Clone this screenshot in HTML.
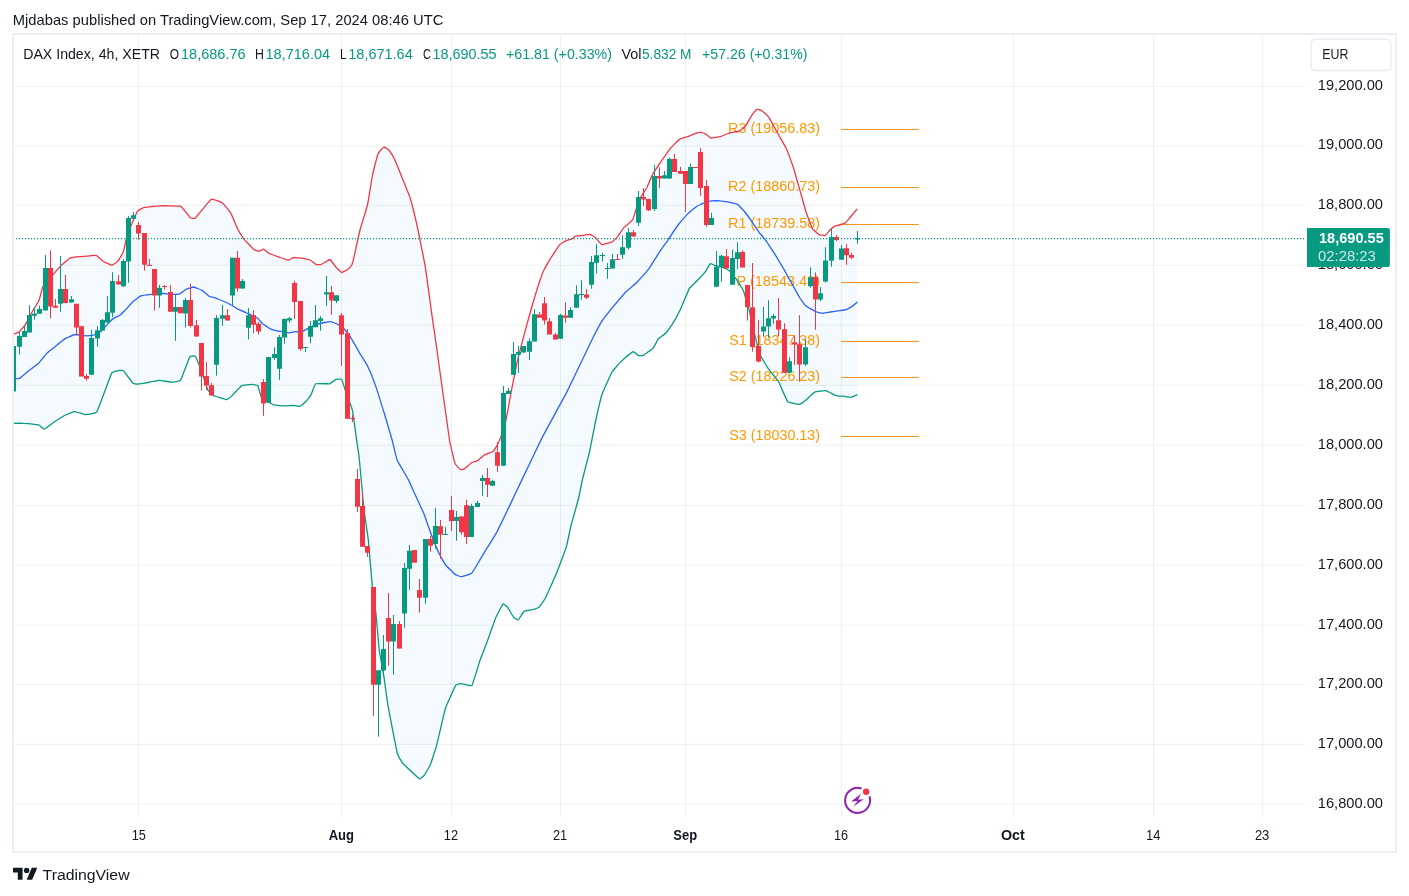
<!DOCTYPE html>
<html lang="en"><head><meta charset="utf-8"><title>DAX Index 4h chart</title>
<style>html,body{margin:0;padding:0;background:#fff}body{width:1409px;height:896px;overflow:hidden}svg{display:block}text{white-space:pre}</style></head>
<body>
<svg width="1409" height="896" viewBox="0 0 1409 896" font-family="'Liberation Sans', Arial, sans-serif">
<rect width="1409" height="896" fill="#fff"/>
<path d="M138.4 34.0V816.6M341.5 34.0V816.6M451.5 34.0V816.6M560.5 34.0V816.6M685.5 34.0V816.6M841.4 34.0V816.6M1013.5 34.0V816.6M1153.5 34.0V816.6M1262.6 34.0V816.6" stroke="#2a3a3e" stroke-opacity="0.072" stroke-width="1" fill="none"/>
<path d="M13.0 86.25H1305.8M13.0 146.30H1305.8M13.0 205.30H1305.8M13.0 265.30H1305.8M13.0 325.25H1305.8M13.0 385.25H1305.8M13.0 445.30H1305.8M13.0 505.35H1305.8M13.0 565.25H1305.8M13.0 625.25H1305.8M13.0 684.50H1305.8M13.0 744.40H1305.8M13.0 804.30H1305.8" stroke="#2a3a3e" stroke-opacity="0.072" stroke-width="1" fill="none"/>
<path d="M12.8 334.2C13.1 334.1 18.3 332.6 18.8 332.2C19.2 331.8 24.5 325.9 25.0 325.2C25.5 324.4 30.7 314.4 31.2 313.4C31.8 312.4 38.6 301.4 39.1 300.3C39.5 299.2 42.4 287.3 43.0 286.2C43.5 285.2 52.4 275.4 53.1 274.5C53.8 273.7 60.2 266.3 60.9 265.6C61.6 265.0 69.5 258.2 70.3 257.8C71.1 257.4 80.2 256.7 81.2 256.6C82.3 256.5 95.2 255.1 96.1 255.3C97.0 255.5 102.5 260.9 103.1 261.2C103.8 261.6 111.1 265.2 111.7 265.2C112.3 265.2 117.5 261.8 118.0 261.2C118.4 260.7 123.1 252.8 123.4 251.9C123.8 250.9 126.2 238.9 126.6 237.8C126.9 236.8 130.8 226.4 131.2 225.3C131.7 224.2 137.0 211.9 137.5 211.2C138.0 210.6 142.1 208.0 143.0 207.8C143.8 207.6 157.9 205.8 159.4 205.8C160.9 205.7 179.2 205.8 180.5 206.2C181.7 206.7 190.0 217.5 190.6 218.0C191.2 218.4 194.5 218.7 195.3 218.0C196.1 217.2 210.2 199.8 211.2 199.2C212.3 198.7 221.7 202.4 222.5 203.0C223.3 203.6 230.7 212.7 231.2 213.8C231.8 214.8 237.0 227.8 237.5 228.8C238.0 229.8 243.1 237.9 243.8 238.8C244.4 239.6 253.2 249.0 253.8 249.5C254.3 250.0 258.4 251.3 258.8 251.2C259.1 251.2 263.4 249.2 263.8 249.2C264.1 249.3 268.1 252.9 268.8 253.2C269.4 253.6 279.2 257.2 280.0 257.5C280.8 257.8 288.2 260.0 288.8 260.0C289.3 260.0 293.2 257.6 293.8 257.5C294.3 257.4 301.9 258.1 302.5 258.2C303.1 258.4 309.4 259.8 310.0 260.0C310.6 260.2 315.8 264.3 316.2 264.5C316.7 264.7 320.7 264.7 321.2 264.5C321.8 264.3 329.4 259.4 330.0 259.5C330.6 259.6 335.8 267.0 336.2 267.5C336.7 268.0 341.3 272.4 341.8 272.5C342.2 272.6 347.1 269.8 347.5 269.5C347.9 269.2 351.4 265.7 351.8 265.0C352.1 264.3 354.7 253.9 355.0 252.5C355.3 251.1 359.5 231.9 360.0 230.0C360.5 228.1 367.0 207.2 367.5 205.0C368.0 202.8 372.1 177.1 372.5 175.0C372.9 172.9 377.6 154.9 378.0 153.8C378.4 152.6 383.3 147.2 383.8 147.0C384.2 146.8 388.4 149.6 388.8 150.0C389.1 150.4 393.3 156.6 393.8 157.5C394.2 158.4 399.4 170.9 400.0 172.5C400.6 174.1 409.3 195.3 410.0 197.5C410.7 199.7 416.9 224.8 417.5 227.5C418.1 230.2 424.4 261.7 425.0 265.0C425.6 268.3 430.8 306.4 431.2 310.0C431.8 313.6 436.8 348.8 437.5 354.0C438.2 359.2 448.8 435.6 449.5 440.0C450.2 444.4 454.6 462.2 455.0 463.4C455.4 464.6 460.1 469.5 460.5 469.7C460.8 469.9 463.9 469.2 464.4 468.9C464.8 468.6 470.9 463.0 471.4 462.7C471.9 462.3 476.3 461.4 476.9 461.1C477.4 460.8 484.1 455.2 484.7 454.8C485.3 454.5 492.1 452.0 492.5 451.7C492.9 451.4 495.3 448.3 495.6 447.8C495.9 447.3 499.9 439.5 500.3 438.4C500.7 437.4 505.3 423.1 505.8 421.2C506.2 419.4 510.8 394.0 511.2 391.6C511.7 389.1 516.9 363.0 517.5 360.3C518.1 357.6 526.2 326.7 526.9 324.4C527.5 322.1 532.6 304.2 533.1 302.5C533.6 300.8 538.9 283.5 539.4 282.2C539.8 280.9 543.6 270.6 544.1 269.7C544.5 268.8 549.7 259.8 550.3 258.8C550.9 257.8 559.1 245.4 559.7 244.7C560.3 244.0 565.4 241.0 565.9 240.8C566.4 240.6 571.8 239.1 572.2 238.9C572.6 238.7 574.9 236.2 575.3 236.1C575.8 235.9 582.5 235.4 583.1 235.3C583.7 235.2 589.7 234.4 590.2 234.5C590.7 234.6 595.2 237.2 595.6 237.7C596.1 238.1 601.2 244.5 601.9 244.7C602.5 244.9 611.4 242.2 612.0 241.9C612.7 241.6 617.0 237.4 617.5 236.9C618.0 236.3 622.8 228.8 623.4 228.1C624.0 227.4 632.2 220.7 632.8 219.5C633.4 218.4 638.5 201.3 639.1 200.0C639.6 198.7 646.3 188.6 646.9 187.5C647.4 186.4 652.5 174.6 653.1 173.4C653.8 172.3 661.8 160.4 662.5 159.4C663.2 158.4 669.6 149.2 670.3 148.4C671.0 147.6 678.9 139.6 679.7 139.1C680.4 138.6 688.4 136.5 689.1 136.2C689.8 136.0 696.4 133.0 696.9 132.8C697.4 132.7 701.2 132.4 701.6 132.5C701.9 132.6 705.9 134.2 706.2 134.4C706.6 134.6 710.4 137.9 710.9 138.0C711.5 138.1 719.6 136.9 720.3 136.7C721.1 136.5 728.9 133.0 729.7 132.8C730.4 132.6 738.4 131.5 739.1 131.2C739.7 131.0 744.8 127.2 745.3 126.6C745.8 125.9 751.1 116.3 751.6 115.6C752.0 114.9 756.6 109.2 757.0 109.1C757.5 108.9 762.0 110.9 762.5 111.2C763.0 111.6 768.2 116.4 768.8 117.2C769.3 118.0 775.9 130.0 776.6 131.2C777.2 132.5 785.2 146.2 785.9 147.7C786.6 149.2 793.2 167.0 793.8 168.8C794.3 170.5 799.5 188.9 800.0 190.6C800.5 192.4 805.8 211.0 806.2 212.5C806.8 214.0 812.0 227.9 812.5 228.8C813.0 229.6 818.2 234.1 818.8 234.4C819.2 234.7 824.5 235.8 825.0 235.6C825.5 235.4 829.6 230.4 830.0 230.0C830.4 229.6 834.4 226.5 835.0 226.2C835.6 226.0 844.4 223.5 845.0 223.1C845.6 222.8 849.5 218.1 850.0 217.5C850.5 216.9 857.0 209.1 857.2 208.8L857.5 394.7C857.2 394.8 851.5 397.3 850.9 397.3C850.4 397.4 843.8 396.3 843.1 396.2C842.5 396.2 836.0 395.5 835.3 395.3C834.6 395.1 826.8 390.8 825.9 390.6C825.1 390.5 815.8 391.5 815.0 391.9C814.2 392.2 807.8 398.4 807.2 398.9C806.6 399.4 800.1 404.2 799.4 404.4C798.6 404.5 788.8 402.5 788.1 402.0C787.5 401.6 784.1 394.2 783.8 393.4C783.4 392.7 779.4 383.2 779.1 382.5C778.7 381.8 774.8 376.8 774.4 376.2C773.9 375.7 768.7 369.2 768.1 368.4C767.6 367.7 761.5 357.4 761.1 356.7C760.7 356.1 759.2 353.7 758.8 351.9C758.3 350.1 749.9 313.3 749.4 311.2C748.9 309.2 746.5 301.2 746.2 300.3C746.0 299.5 743.5 291.0 743.1 290.2C742.8 289.3 737.4 280.8 736.9 280.0C736.3 279.2 729.7 271.2 729.1 270.6C728.4 270.1 721.8 266.9 721.2 266.7C720.7 266.5 715.4 265.8 715.0 265.6C714.6 265.5 710.7 263.4 710.3 263.6C709.9 263.8 706.1 270.8 705.6 271.4C705.1 272.1 698.5 279.3 697.8 280.0C697.2 280.7 690.1 287.2 689.4 288.4C688.7 289.6 680.7 308.9 680.0 310.3C679.3 311.8 672.8 323.5 672.2 324.4C671.6 325.3 666.5 332.4 665.9 333.0C665.4 333.6 658.6 338.6 658.1 339.2C657.6 339.8 654.0 347.2 653.4 347.8C652.8 348.5 643.9 355.0 643.3 355.3C642.7 355.6 639.0 355.8 638.6 355.6C638.2 355.5 633.8 351.5 633.1 351.7C632.4 352.0 621.5 361.1 620.6 361.9C619.8 362.7 612.8 370.7 612.0 372.0C611.3 373.3 602.5 392.7 601.9 394.7C601.2 396.7 596.1 418.9 595.6 421.2C595.1 423.6 589.9 450.1 589.4 452.5C588.8 454.9 582.8 478.2 582.3 480.0C581.9 481.8 579.1 496.2 578.7 498.0C578.3 499.8 571.9 522.2 571.4 524.2C570.9 526.2 566.7 545.8 566.2 547.4C565.7 549.0 560.3 563.4 559.8 564.8C559.3 566.2 553.2 580.9 552.6 582.2C552.0 583.5 545.8 597.2 545.3 598.2C544.8 599.2 539.9 606.4 539.4 606.9C538.9 607.3 533.8 609.3 533.1 609.5C532.5 609.7 524.3 611.1 523.8 611.6C523.2 612.0 518.7 619.8 518.3 620.0C517.9 620.2 514.0 617.8 513.6 617.3C513.2 616.9 508.5 608.5 508.1 608.0C507.7 607.4 503.6 603.3 503.1 603.8C502.6 604.2 496.2 616.7 495.6 618.1C495.0 619.6 488.4 638.3 487.8 640.0C487.2 641.7 480.6 658.5 480.0 660.3C479.4 662.1 472.6 684.7 471.9 685.6C471.1 686.5 461.9 683.6 461.2 683.6C460.6 683.6 456.4 684.2 455.8 685.2C455.2 686.2 446.4 705.3 445.6 707.8C444.8 710.3 436.9 744.6 436.2 746.9C435.6 749.2 430.5 764.5 430.0 765.6C429.5 766.7 424.9 774.5 424.5 775.0C424.1 775.5 420.3 779.4 419.4 778.9C418.5 778.4 403.6 764.3 402.7 763.3C401.8 762.3 397.8 755.4 397.2 753.1C396.6 750.8 388.3 707.8 387.8 704.7C387.3 701.6 384.2 678.8 383.9 676.6C383.6 674.4 379.5 652.5 379.2 650.0C378.9 647.5 376.4 617.6 376.1 615.0C375.8 612.4 372.5 588.3 372.2 585.3C371.9 582.3 368.6 543.0 368.3 540.0C368.0 537.0 364.4 513.2 364.0 510.0C363.6 506.8 359.7 462.9 359.4 460.0C359.1 457.1 356.5 439.2 356.2 437.2C356.0 435.2 352.8 411.7 352.3 409.8C351.9 408.0 345.7 391.5 345.3 390.3C344.9 389.1 342.1 379.8 341.7 379.4C341.3 378.9 336.4 379.2 335.9 379.4C335.5 379.6 330.5 383.6 329.7 383.8C328.9 383.9 316.4 383.3 315.6 383.8C314.9 384.2 311.3 394.3 310.9 395.0C310.6 395.7 306.7 400.8 306.2 401.2C305.8 401.7 300.5 406.2 300.0 406.4C299.5 406.6 294.4 405.5 293.8 405.5C293.1 405.4 285.2 406.0 284.4 405.9C283.6 405.9 274.0 404.9 273.4 404.8C272.9 404.8 271.6 403.9 271.1 403.6C270.6 403.3 262.2 398.8 261.7 398.1C261.2 397.4 258.2 386.2 257.8 385.6C257.4 385.1 252.2 384.4 251.6 384.4C250.9 384.4 242.2 385.4 241.4 385.9C240.6 386.4 231.8 396.0 231.2 396.6C230.7 397.1 227.2 399.7 226.6 399.7C225.9 399.7 214.8 396.2 214.1 395.8C213.3 395.4 208.3 391.0 207.8 390.0C207.3 389.0 202.1 372.6 201.6 371.2C201.1 369.9 195.8 357.0 195.3 356.4C194.8 355.8 190.4 355.9 189.8 356.9C189.2 357.8 181.2 379.3 180.5 380.3C179.8 381.3 172.7 382.2 171.9 382.2C171.0 382.2 160.3 380.3 159.4 380.3C158.4 380.3 149.3 382.4 148.4 382.5C147.6 382.6 138.1 384.0 137.5 384.1C136.9 384.1 133.4 383.5 132.8 383.0C132.2 382.4 124.0 371.3 123.4 370.8C122.9 370.3 119.2 370.4 118.8 370.5C118.3 370.6 112.6 371.5 111.7 373.1C110.8 374.8 97.9 410.2 96.9 411.9C95.8 413.5 86.8 414.7 85.9 414.7C85.1 414.7 75.8 411.6 75.0 411.6C74.2 411.6 66.5 414.6 65.6 415.0C64.8 415.4 54.0 422.2 53.1 422.8C52.3 423.4 45.1 429.0 44.5 429.1C44.0 429.2 39.5 425.3 39.1 425.2C38.7 425.0 35.0 424.4 34.4 424.4C33.8 424.3 24.3 423.3 23.4 423.3C22.6 423.2 13.2 423.3 12.8 423.3Z" fill="#2196f3" fill-opacity="0.05"/>
<path d="M841 129.5H918.8" stroke="#f7931a" stroke-width="1" fill="none"/>
<text x="728.1" y="132.78" font-size="14.8" fill="#ff9800" textLength="92.0" lengthAdjust="spacingAndGlyphs">R3 (19056.83)</text>
<path d="M841 187.5H918.8" stroke="#f7931a" stroke-width="1" fill="none"/>
<text x="728.1" y="191.43" font-size="14.8" fill="#ff9800" textLength="92.0" lengthAdjust="spacingAndGlyphs">R2 (18860.73)</text>
<path d="M841 224.5H918.8" stroke="#f7931a" stroke-width="1" fill="none"/>
<text x="728.1" y="227.67" font-size="14.8" fill="#ff9800" textLength="92.0" lengthAdjust="spacingAndGlyphs">R1 (18739.58)</text>
<path d="M841 282.5H918.8" stroke="#f7931a" stroke-width="1" fill="none"/>
<text x="736.6" y="286.33" font-size="14.8" fill="#ff9800" textLength="83.4" lengthAdjust="spacingAndGlyphs">P (18543.48)</text>
<path d="M841 341.5H918.8" stroke="#f7931a" stroke-width="1" fill="none"/>
<text x="729.2" y="344.99" font-size="14.8" fill="#ff9800" textLength="90.9" lengthAdjust="spacingAndGlyphs">S1 (18347.38)</text>
<path d="M841 377.5H918.8" stroke="#f7931a" stroke-width="1" fill="none"/>
<text x="729.2" y="381.23" font-size="14.8" fill="#ff9800" textLength="90.9" lengthAdjust="spacingAndGlyphs">S2 (18226.23)</text>
<path d="M841 436.5H918.8" stroke="#f7931a" stroke-width="1" fill="none"/>
<text x="729.2" y="439.89" font-size="14.8" fill="#ff9800" textLength="90.9" lengthAdjust="spacingAndGlyphs">S3 (18030.13)</text>
<path d="M12.8 334.2C13.1 334.1 18.3 332.6 18.8 332.2C19.2 331.8 24.5 325.9 25.0 325.2C25.5 324.4 30.7 314.4 31.2 313.4C31.8 312.4 38.6 301.4 39.1 300.3C39.5 299.2 42.4 287.3 43.0 286.2C43.5 285.2 52.4 275.4 53.1 274.5C53.8 273.7 60.2 266.3 60.9 265.6C61.6 265.0 69.5 258.2 70.3 257.8C71.1 257.4 80.2 256.7 81.2 256.6C82.3 256.5 95.2 255.1 96.1 255.3C97.0 255.5 102.5 260.9 103.1 261.2C103.8 261.6 111.1 265.2 111.7 265.2C112.3 265.2 117.5 261.8 118.0 261.2C118.4 260.7 123.1 252.8 123.4 251.9C123.8 250.9 126.2 238.9 126.6 237.8C126.9 236.8 130.8 226.4 131.2 225.3C131.7 224.2 137.0 211.9 137.5 211.2C138.0 210.6 142.1 208.0 143.0 207.8C143.8 207.6 157.9 205.8 159.4 205.8C160.9 205.7 179.2 205.8 180.5 206.2C181.7 206.7 190.0 217.5 190.6 218.0C191.2 218.4 194.5 218.7 195.3 218.0C196.1 217.2 210.2 199.8 211.2 199.2C212.3 198.7 221.7 202.4 222.5 203.0C223.3 203.6 230.7 212.7 231.2 213.8C231.8 214.8 237.0 227.8 237.5 228.8C238.0 229.8 243.1 237.9 243.8 238.8C244.4 239.6 253.2 249.0 253.8 249.5C254.3 250.0 258.4 251.3 258.8 251.2C259.1 251.2 263.4 249.2 263.8 249.2C264.1 249.3 268.1 252.9 268.8 253.2C269.4 253.6 279.2 257.2 280.0 257.5C280.8 257.8 288.2 260.0 288.8 260.0C289.3 260.0 293.2 257.6 293.8 257.5C294.3 257.4 301.9 258.1 302.5 258.2C303.1 258.4 309.4 259.8 310.0 260.0C310.6 260.2 315.8 264.3 316.2 264.5C316.7 264.7 320.7 264.7 321.2 264.5C321.8 264.3 329.4 259.4 330.0 259.5C330.6 259.6 335.8 267.0 336.2 267.5C336.7 268.0 341.3 272.4 341.8 272.5C342.2 272.6 347.1 269.8 347.5 269.5C347.9 269.2 351.4 265.7 351.8 265.0C352.1 264.3 354.7 253.9 355.0 252.5C355.3 251.1 359.5 231.9 360.0 230.0C360.5 228.1 367.0 207.2 367.5 205.0C368.0 202.8 372.1 177.1 372.5 175.0C372.9 172.9 377.6 154.9 378.0 153.8C378.4 152.6 383.3 147.2 383.8 147.0C384.2 146.8 388.4 149.6 388.8 150.0C389.1 150.4 393.3 156.6 393.8 157.5C394.2 158.4 399.4 170.9 400.0 172.5C400.6 174.1 409.3 195.3 410.0 197.5C410.7 199.7 416.9 224.8 417.5 227.5C418.1 230.2 424.4 261.7 425.0 265.0C425.6 268.3 430.8 306.4 431.2 310.0C431.8 313.6 436.8 348.8 437.5 354.0C438.2 359.2 448.8 435.6 449.5 440.0C450.2 444.4 454.6 462.2 455.0 463.4C455.4 464.6 460.1 469.5 460.5 469.7C460.8 469.9 463.9 469.2 464.4 468.9C464.8 468.6 470.9 463.0 471.4 462.7C471.9 462.3 476.3 461.4 476.9 461.1C477.4 460.8 484.1 455.2 484.7 454.8C485.3 454.5 492.1 452.0 492.5 451.7C492.9 451.4 495.3 448.3 495.6 447.8C495.9 447.3 499.9 439.5 500.3 438.4C500.7 437.4 505.3 423.1 505.8 421.2C506.2 419.4 510.8 394.0 511.2 391.6C511.7 389.1 516.9 363.0 517.5 360.3C518.1 357.6 526.2 326.7 526.9 324.4C527.5 322.1 532.6 304.2 533.1 302.5C533.6 300.8 538.9 283.5 539.4 282.2C539.8 280.9 543.6 270.6 544.1 269.7C544.5 268.8 549.7 259.8 550.3 258.8C550.9 257.8 559.1 245.4 559.7 244.7C560.3 244.0 565.4 241.0 565.9 240.8C566.4 240.6 571.8 239.1 572.2 238.9C572.6 238.7 574.9 236.2 575.3 236.1C575.8 235.9 582.5 235.4 583.1 235.3C583.7 235.2 589.7 234.4 590.2 234.5C590.7 234.6 595.2 237.2 595.6 237.7C596.1 238.1 601.2 244.5 601.9 244.7C602.5 244.9 611.4 242.2 612.0 241.9C612.7 241.6 617.0 237.4 617.5 236.9C618.0 236.3 622.8 228.8 623.4 228.1C624.0 227.4 632.2 220.7 632.8 219.5C633.4 218.4 638.5 201.3 639.1 200.0C639.6 198.7 646.3 188.6 646.9 187.5C647.4 186.4 652.5 174.6 653.1 173.4C653.8 172.3 661.8 160.4 662.5 159.4C663.2 158.4 669.6 149.2 670.3 148.4C671.0 147.6 678.9 139.6 679.7 139.1C680.4 138.6 688.4 136.5 689.1 136.2C689.8 136.0 696.4 133.0 696.9 132.8C697.4 132.7 701.2 132.4 701.6 132.5C701.9 132.6 705.9 134.2 706.2 134.4C706.6 134.6 710.4 137.9 710.9 138.0C711.5 138.1 719.6 136.9 720.3 136.7C721.1 136.5 728.9 133.0 729.7 132.8C730.4 132.6 738.4 131.5 739.1 131.2C739.7 131.0 744.8 127.2 745.3 126.6C745.8 125.9 751.1 116.3 751.6 115.6C752.0 114.9 756.6 109.2 757.0 109.1C757.5 108.9 762.0 110.9 762.5 111.2C763.0 111.6 768.2 116.4 768.8 117.2C769.3 118.0 775.9 130.0 776.6 131.2C777.2 132.5 785.2 146.2 785.9 147.7C786.6 149.2 793.2 167.0 793.8 168.8C794.3 170.5 799.5 188.9 800.0 190.6C800.5 192.4 805.8 211.0 806.2 212.5C806.8 214.0 812.0 227.9 812.5 228.8C813.0 229.6 818.2 234.1 818.8 234.4C819.2 234.7 824.5 235.8 825.0 235.6C825.5 235.4 829.6 230.4 830.0 230.0C830.4 229.6 834.4 226.5 835.0 226.2C835.6 226.0 844.4 223.5 845.0 223.1C845.6 222.8 849.5 218.1 850.0 217.5C850.5 216.9 857.0 209.1 857.2 208.8" fill="none" stroke="#f23645" stroke-width="1.3" stroke-linejoin="round"/>
<path d="M12.8 423.3C13.2 423.3 22.6 423.2 23.4 423.3C24.3 423.3 33.8 424.3 34.4 424.4C35.0 424.4 38.7 425.0 39.1 425.2C39.5 425.3 44.0 429.2 44.5 429.1C45.1 429.0 52.3 423.4 53.1 422.8C54.0 422.2 64.8 415.4 65.6 415.0C66.5 414.6 74.2 411.6 75.0 411.6C75.8 411.6 85.1 414.7 85.9 414.7C86.8 414.7 95.8 413.5 96.9 411.9C97.9 410.2 110.8 374.8 111.7 373.1C112.6 371.5 118.3 370.6 118.8 370.5C119.2 370.4 122.9 370.3 123.4 370.8C124.0 371.3 132.2 382.4 132.8 383.0C133.4 383.5 136.9 384.1 137.5 384.1C138.1 384.0 147.6 382.6 148.4 382.5C149.3 382.4 158.4 380.3 159.4 380.3C160.3 380.3 171.0 382.2 171.9 382.2C172.7 382.2 179.8 381.3 180.5 380.3C181.2 379.3 189.2 357.8 189.8 356.9C190.4 355.9 194.8 355.8 195.3 356.4C195.8 357.0 201.1 369.9 201.6 371.2C202.1 372.6 207.3 389.0 207.8 390.0C208.3 391.0 213.3 395.4 214.1 395.8C214.8 396.2 225.9 399.7 226.6 399.7C227.2 399.7 230.7 397.1 231.2 396.6C231.8 396.0 240.6 386.4 241.4 385.9C242.2 385.4 250.9 384.4 251.6 384.4C252.2 384.4 257.4 385.1 257.8 385.6C258.2 386.2 261.2 397.4 261.7 398.1C262.2 398.8 270.6 403.3 271.1 403.6C271.6 403.9 272.9 404.8 273.4 404.8C274.0 404.9 283.6 405.9 284.4 405.9C285.2 406.0 293.1 405.4 293.8 405.5C294.4 405.5 299.5 406.6 300.0 406.4C300.5 406.2 305.8 401.7 306.2 401.2C306.7 400.8 310.6 395.7 310.9 395.0C311.3 394.3 314.9 384.2 315.6 383.8C316.4 383.3 328.9 383.9 329.7 383.8C330.5 383.6 335.5 379.6 335.9 379.4C336.4 379.2 341.3 378.9 341.7 379.4C342.1 379.8 344.9 389.1 345.3 390.3C345.7 391.5 351.9 408.0 352.3 409.8C352.8 411.7 356.0 435.2 356.2 437.2C356.5 439.2 359.1 457.1 359.4 460.0C359.7 462.9 363.6 506.8 364.0 510.0C364.4 513.2 368.0 537.0 368.3 540.0C368.6 543.0 371.9 582.3 372.2 585.3C372.5 588.3 375.8 612.4 376.1 615.0C376.4 617.6 378.9 647.5 379.2 650.0C379.5 652.5 383.6 674.4 383.9 676.6C384.2 678.8 387.3 701.6 387.8 704.7C388.3 707.8 396.6 750.8 397.2 753.1C397.8 755.4 401.8 762.3 402.7 763.3C403.6 764.3 418.5 778.4 419.4 778.9C420.3 779.4 424.1 775.5 424.5 775.0C424.9 774.5 429.5 766.7 430.0 765.6C430.5 764.5 435.6 749.2 436.2 746.9C436.9 744.6 444.8 710.3 445.6 707.8C446.4 705.3 455.2 686.2 455.8 685.2C456.4 684.2 460.6 683.6 461.2 683.6C461.9 683.6 471.1 686.5 471.9 685.6C472.6 684.7 479.4 662.1 480.0 660.3C480.6 658.5 487.2 641.7 487.8 640.0C488.4 638.3 495.0 619.6 495.6 618.1C496.2 616.7 502.6 604.2 503.1 603.8C503.6 603.3 507.7 607.4 508.1 608.0C508.5 608.5 513.2 616.9 513.6 617.3C514.0 617.8 517.9 620.2 518.3 620.0C518.7 619.8 523.2 612.0 523.8 611.6C524.3 611.1 532.5 609.7 533.1 609.5C533.8 609.3 538.9 607.3 539.4 606.9C539.9 606.4 544.8 599.2 545.3 598.2C545.8 597.2 552.0 583.5 552.6 582.2C553.2 580.9 559.3 566.2 559.8 564.8C560.3 563.4 565.7 549.0 566.2 547.4C566.7 545.8 570.9 526.2 571.4 524.2C571.9 522.2 578.3 499.8 578.7 498.0C579.1 496.2 581.9 481.8 582.3 480.0C582.8 478.2 588.8 454.9 589.4 452.5C589.9 450.1 595.1 423.6 595.6 421.2C596.1 418.9 601.2 396.7 601.9 394.7C602.5 392.7 611.3 373.3 612.0 372.0C612.8 370.7 619.8 362.7 620.6 361.9C621.5 361.1 632.4 352.0 633.1 351.7C633.8 351.5 638.2 355.5 638.6 355.6C639.0 355.8 642.7 355.6 643.3 355.3C643.9 355.0 652.8 348.5 653.4 347.8C654.0 347.2 657.6 339.8 658.1 339.2C658.6 338.6 665.4 333.6 665.9 333.0C666.5 332.4 671.6 325.3 672.2 324.4C672.8 323.5 679.3 311.8 680.0 310.3C680.7 308.9 688.7 289.6 689.4 288.4C690.1 287.2 697.2 280.7 697.8 280.0C698.5 279.3 705.1 272.1 705.6 271.4C706.1 270.8 709.9 263.8 710.3 263.6C710.7 263.4 714.6 265.5 715.0 265.6C715.4 265.8 720.7 266.5 721.2 266.7C721.8 266.9 728.4 270.1 729.1 270.6C729.7 271.2 736.3 279.2 736.9 280.0C737.4 280.8 742.8 289.3 743.1 290.2C743.5 291.0 746.0 299.5 746.2 300.3C746.5 301.2 748.9 309.2 749.4 311.2C749.9 313.3 758.3 350.1 758.8 351.9C759.2 353.7 760.7 356.1 761.1 356.7C761.5 357.4 767.6 367.7 768.1 368.4C768.7 369.2 773.9 375.7 774.4 376.2C774.8 376.8 778.7 381.8 779.1 382.5C779.4 383.2 783.4 392.7 783.8 393.4C784.1 394.2 787.5 401.6 788.1 402.0C788.8 402.5 798.6 404.5 799.4 404.4C800.1 404.2 806.6 399.4 807.2 398.9C807.8 398.4 814.2 392.2 815.0 391.9C815.8 391.5 825.1 390.5 825.9 390.6C826.8 390.8 834.6 395.1 835.3 395.3C836.0 395.5 842.5 396.2 843.1 396.2C843.8 396.3 850.4 397.4 850.9 397.3C851.5 397.3 857.2 394.8 857.5 394.7" fill="none" stroke="#089981" stroke-width="1.3" stroke-linejoin="round"/>
<path d="M12.8 378.8C13.1 378.7 18.9 378.6 19.5 378.3C20.1 378.0 27.3 371.9 28.1 371.2C28.9 370.6 38.3 363.4 39.1 362.7C39.8 361.9 46.2 353.9 46.9 353.3C47.5 352.7 53.9 347.6 54.7 347.0C55.4 346.4 64.8 338.9 65.6 338.4C66.4 337.9 74.2 334.6 75.0 334.5C75.8 334.4 85.2 335.8 85.9 335.8C86.7 335.8 93.1 335.2 93.8 335.0C94.4 334.8 100.9 331.5 101.6 330.9C102.2 330.4 108.9 322.5 109.4 322.0C109.9 321.5 113.6 318.4 114.1 318.1C114.5 317.8 119.9 315.3 120.3 315.0C120.8 314.7 124.5 310.8 125.0 310.3C125.5 309.8 132.2 302.3 132.8 301.7C133.4 301.1 140.0 296.2 140.6 295.9C141.2 295.7 147.8 294.8 148.4 294.7C149.1 294.6 155.6 294.0 156.2 293.9C156.9 293.9 163.4 293.4 164.1 293.4C164.7 293.5 171.2 294.4 171.9 294.4C172.5 294.4 179.1 294.1 179.7 293.9C180.2 293.7 185.4 289.6 185.9 289.4C186.5 289.1 193.1 287.0 193.8 287.0C194.4 287.1 200.9 289.8 201.6 290.2C202.2 290.5 208.9 296.1 209.4 296.4C209.8 296.7 212.1 297.0 212.5 297.2C212.9 297.3 219.6 299.7 220.3 300.0C221.1 300.3 230.5 304.6 231.2 305.0C232.0 305.4 238.2 309.3 239.1 309.7C239.9 310.1 250.8 314.8 251.6 315.2C252.3 315.5 257.4 317.9 257.8 318.3C258.2 318.6 262.0 323.3 262.5 323.8C263.0 324.2 269.7 328.4 270.3 328.8C270.9 329.1 277.4 331.1 278.1 331.2C278.9 331.4 288.4 332.8 289.1 332.8C289.8 332.8 294.8 331.6 295.3 331.6C295.8 331.5 301.0 332.0 301.6 331.9C302.1 331.7 308.8 328.0 309.4 327.7C310.0 327.4 316.6 324.4 317.2 324.2C317.8 324.0 324.5 322.6 325.0 322.5C325.5 322.4 330.0 321.5 330.5 321.6C331.0 321.6 337.0 323.8 337.5 324.1C338.0 324.3 343.2 327.9 343.8 328.4C344.2 328.9 349.3 335.2 350.0 336.2C350.7 337.3 360.2 354.0 360.9 355.2C361.6 356.3 366.6 364.2 367.2 365.3C367.8 366.5 374.3 382.1 375.0 384.1C375.7 386.0 383.7 411.5 384.4 413.8C385.1 416.0 391.7 438.4 392.2 440.3C392.7 442.2 396.6 458.8 397.2 460.3C397.8 461.9 407.4 477.8 408.1 479.1C408.8 480.4 413.8 491.8 414.4 493.1C415.0 494.5 423.1 511.8 423.8 513.4C424.4 515.1 430.9 533.7 431.6 535.3C432.2 536.9 438.8 552.9 439.4 554.1C439.9 555.2 445.0 564.2 445.6 565.0C446.2 565.8 454.4 573.9 455.0 574.4C455.6 574.8 460.6 576.8 461.2 576.7C461.9 576.7 470.8 574.1 471.4 573.6C472.0 573.1 476.3 566.0 476.9 565.0C477.5 564.0 485.4 550.7 486.2 549.4C487.1 548.0 496.2 533.2 497.2 531.4C498.1 529.7 508.7 507.7 509.7 505.6C510.7 503.5 520.9 481.8 522.2 479.1C523.5 476.3 540.8 440.3 542.5 436.9C544.2 433.5 564.2 397.2 565.9 393.9C567.6 390.6 583.6 357.3 584.7 355.0C585.8 352.7 593.4 336.7 594.1 335.3C594.8 334.0 601.1 322.4 601.9 321.2C602.6 320.1 611.9 308.3 612.8 307.2C613.8 306.0 624.4 293.3 625.3 292.3C626.2 291.4 635.3 283.9 636.2 283.0C637.2 282.0 647.8 270.2 648.8 268.9C649.7 267.7 658.9 252.8 659.7 251.7C660.4 250.6 666.8 241.8 667.5 240.8C668.2 239.7 677.3 226.1 678.1 225.0C678.9 223.9 686.8 214.8 687.5 214.1C688.2 213.3 696.2 206.7 696.9 206.2C697.5 205.8 702.6 203.7 703.1 203.4C703.7 203.2 710.2 200.9 710.9 200.8C711.6 200.7 719.6 200.7 720.3 200.8C721.1 200.8 729.0 202.2 729.7 202.3C730.4 202.5 736.9 204.0 737.5 204.4C738.1 204.8 744.7 211.7 745.3 212.5C745.9 213.3 752.6 222.6 753.1 223.4C753.7 224.2 758.9 232.2 759.4 232.8C759.9 233.4 764.4 238.6 765.0 239.4C765.6 240.2 773.6 252.2 774.4 253.4C775.1 254.6 783.1 267.9 783.8 269.1C784.4 270.2 790.9 282.0 791.6 283.1C792.2 284.2 798.8 296.3 799.4 297.2C799.9 298.1 805.0 305.2 805.6 305.8C806.2 306.3 814.3 310.9 815.0 311.2C815.7 311.6 822.2 313.2 822.8 313.3C823.4 313.3 830.0 312.1 830.6 312.0C831.2 311.9 837.8 310.9 838.4 310.8C839.1 310.7 845.7 309.9 846.2 309.7C846.8 309.5 852.0 306.4 852.5 306.1C853.0 305.8 857.3 302.0 857.5 301.9" fill="none" stroke="#2962ff" stroke-width="1.3" stroke-linejoin="round"/>
<path d="M13.50 340.00V391.60M19.50 332.20V354.50M24.50 325.90V336.90M29.50 305.20V332.50M34.50 307.20V319.70M39.50 305.60V313.75M45.50 255.00V310.40M60.50 256.00V311.70M71.50 296.00V302.60M91.50 329.80V374.70M97.50 326.25V346.60M102.50 319.00V330.60M107.50 296.00V322.50M112.50 272.20V317.30M123.50 258.90V287.00M128.50 216.00V282.80M133.50 212.00V218.75M159.50 285.00V307.80M175.50 294.50V340.80M185.50 298.00V327.50M216.50 315.10V375.70M222.50 305.00V325.60M232.50 257.80V305.00M242.50 279.00V288.60M248.50 308.00V339.40M268.50 357.00V402.80M274.50 347.25V359.80M279.50 334.90V379.80M284.50 318.30V343.75M289.50 317.00V322.70M305.50 346.90V352.00M310.50 321.00V342.90M315.50 305.00V327.20M320.50 316.00V330.80M326.50 276.00V306.00M336.50 295.30V303.00M378.50 670.30V736.70M383.50 635.00V676.60M393.50 615.00V674.70M404.50 563.00V627.80M409.50 545.00V590.00M425.50 539.00V603.75M435.50 508.00V548.60M445.50 527.00V535.00M456.50 511.00V540.80M471.50 503.75V536.90M477.50 501.00V506.90M482.50 475.00V495.80M492.50 479.80V485.80M503.50 386.00V465.80M508.50 388.00V393.90M513.50 342.00V374.70M518.50 346.00V372.80M523.50 346.10V352.60M529.50 338.40V360.00M534.50 309.20V341.60M560.50 313.75V338.75M570.50 307.20V317.70M576.50 285.30V307.70M581.50 280.20V299.80M591.50 256.00V288.75M596.50 244.20V273.60M602.50 252.80V261.60M607.50 263.00V278.75M612.50 254.00V268.60M622.50 235.30V258.75M628.50 228.20V249.70M638.50 191.00V225.90M654.50 164.80V211.00M664.50 171.00V178.60M669.50 157.80V178.60M690.50 163.75V183.90M711.50 212.80V225.00M716.50 251.00V286.70M721.50 255.00V281.60M732.50 249.50V284.70M737.50 242.20V269.00M763.50 306.90V336.70M768.50 300.30V337.80M773.50 314.00V323.75M789.50 357.10V372.70M805.50 339.30V365.80M810.50 267.20V287.80M820.50 287.00V301.00M825.50 247.20V282.70M831.50 229.00V266.80M841.50 245.10V259.70M857.50 231.10V243.75" stroke="#089981" stroke-width="1" fill="none"/>
<path d="M50.50 250.30V318.40M55.50 299.00V307.80M65.50 274.80V303.50M76.50 303.75V335.30M81.50 326.25V376.40M86.50 374.00V380.60M118.50 275.00V284.40M138.50 221.90V239.70M144.50 233.10V270.60M149.50 258.90V265.60M154.50 269.00V310.50M164.50 285.00V289.40M170.50 285.00V311.70M180.50 307.00V313.30M190.50 283.60V327.50M196.50 320.00V336.60M201.50 343.10V390.50M206.50 362.00V390.00M211.50 383.00V395.60M227.50 309.20V320.60M237.50 251.00V291.70M253.50 310.00V333.40M258.50 322.00V334.70M263.50 379.00V415.80M294.50 280.80V318.75M300.50 301.10V350.70M331.50 286.00V314.80M341.50 313.00V365.90M347.50 329.10V418.75M352.50 415.00V421.90M357.50 468.90V511.90M362.50 492.30V546.80M367.50 546.10V556.90M373.50 586.90V716.00M388.50 593.00V665.70M399.50 621.00V648.60M414.50 550.00V562.70M419.50 579.00V612.70M430.50 536.00V551.70M440.50 520.00V558.75M451.50 495.80V531.00M461.50 515.80V534.80M466.50 499.80V543.90M487.50 468.00V497.00M497.50 442.10V471.80M539.50 312.00V317.70M544.50 297.00V324.40M549.50 318.00V334.50M555.50 333.00V339.50M565.50 302.20V322.80M586.50 289.20V299.00M617.50 254.00V260.00M633.50 230.10V236.60M643.50 188.00V206.25M648.50 198.90V211.00M659.50 167.20V188.00M674.50 153.90V171.90M680.50 166.90V173.75M685.50 171.10V212.00M695.50 167.20V168.20M700.50 148.00V195.80M706.50 180.00V226.90M726.50 249.00V268.60M742.50 250.60V267.50M747.50 285.00V320.60M752.50 263.10V351.70M758.50 319.80V362.60M778.50 298.00V336.25M784.50 323.30V372.70M794.50 335.50V365.00M799.50 315.20V381.70M815.50 272.50V329.60M836.50 235.00V241.00M846.50 244.00V264.70M851.50 253.00V258.90" stroke="#f23645" stroke-width="1" fill="none"/>
<path d="M13.00 345.90H16.00V391.60H13.00ZM17.00 336.10H22.00V346.70H17.00ZM22.00 330.90H27.00V336.90H22.00ZM27.00 315.00H32.00V332.50H27.00ZM32.00 313.40H37.00V315.80H32.00ZM37.00 309.00H42.00V313.75H37.00ZM43.00 268.00H48.00V310.40H43.00ZM58.00 289.00H63.00V303.75H58.00ZM69.00 299.20H74.00V302.60H69.00ZM89.00 338.10H94.00V374.70H89.00ZM95.00 330.30H100.00V338.40H95.00ZM100.00 320.00H105.00V330.60H100.00ZM105.00 312.20H110.00V322.50H105.00ZM110.00 281.10H115.00V312.70H110.00ZM121.00 260.90H126.00V286.25H121.00ZM126.00 218.00H131.00V261.60H126.00ZM131.00 215.20H136.00V218.75H131.00ZM157.00 287.80H162.00V295.60H157.00ZM173.00 307.00H178.00V311.70H173.00ZM183.00 300.00H188.00V313.60H183.00ZM214.00 317.90H219.00V364.70H214.00ZM220.00 315.20H225.00V318.75H220.00ZM230.00 257.80H235.00V295.60H230.00ZM240.00 281.00H245.00V288.60H240.00ZM246.00 315.20H251.00V327.70H246.00ZM266.00 357.00H271.00V402.80H266.00ZM272.00 354.10H277.00V358.00H272.00ZM277.00 336.95H282.00V368.80H277.00ZM282.00 319.00H287.00V337.50H282.00ZM287.00 318.30H292.00V320.60H287.00ZM303.00 346.90H308.00V348.10H303.00ZM308.00 326.10H313.00V336.80H308.00ZM313.00 320.20H318.00V327.20H313.00ZM318.00 318.30H323.00V321.00H318.00ZM324.00 292.20H329.00V294.40H324.00ZM334.00 295.30H339.00V301.00H334.00ZM376.00 670.30H381.00V684.70H376.00ZM381.00 649.00H386.00V670.40H381.00ZM391.00 624.00H396.00V641.60H391.00ZM402.00 568.00H407.00V613.40H402.00ZM407.00 550.80H412.00V568.80H407.00ZM423.00 539.00H428.00V597.80H423.00ZM433.00 526.00H438.00V544.00H433.00ZM443.00 533.90H448.00V535.10H443.00ZM454.00 516.90H459.00V521.00H454.00ZM469.00 506.00H474.00V536.90H469.00ZM475.00 503.00H480.00V506.90H475.00ZM480.00 478.00H485.00V481.00H480.00ZM490.00 481.00H495.00V485.80H490.00ZM501.00 393.10H506.00V465.80H501.00ZM506.00 390.80H511.00V393.90H506.00ZM511.00 354.00H516.00V374.70H511.00ZM516.00 352.00H521.00V354.80H516.00ZM521.00 346.10H526.00V352.60H521.00ZM527.00 341.25H532.00V351.70H527.00ZM532.00 314.20H537.00V341.60H532.00ZM558.00 315.00H563.00V338.75H558.00ZM568.00 310.00H573.00V317.70H568.00ZM574.00 294.20H579.00V307.70H574.00ZM579.00 293.90H584.00V295.10H579.00ZM589.00 261.90H594.00V284.80H589.00ZM594.00 255.30H599.00V262.70H594.00ZM600.00 254.90H605.00V256.10H600.00ZM605.00 267.90H610.00V269.10H605.00ZM610.00 259.20H615.00V268.60H610.00ZM620.00 247.30H625.00V254.80H620.00ZM626.00 232.20H631.00V247.80H626.00ZM636.00 196.90H641.00V222.80H636.00ZM652.00 176.10H657.00V208.90H652.00ZM662.00 175.30H667.00V178.60H662.00ZM667.00 158.90H672.00V178.60H667.00ZM688.00 166.90H693.00V183.90H688.00ZM709.00 218.00H714.00V225.00H709.00ZM714.00 266.70H719.00V286.70H714.00ZM719.00 255.80H724.00V267.50H719.00ZM730.00 258.10H735.00V284.70H730.00ZM735.00 252.20H740.00V258.90H735.00ZM761.00 326.40H766.00V331.60H761.00ZM766.00 318.30H771.00V326.60H766.00ZM771.00 315.90H776.00V318.60H771.00ZM787.00 361.30H792.00V372.70H787.00ZM803.00 347.25H808.00V364.60H803.00ZM808.00 277.20H813.00V286.25H808.00ZM818.00 293.30H823.00V299.50H818.00ZM823.00 260.50H828.00V281.60H823.00ZM829.00 237.00H834.00V260.80H829.00ZM839.00 248.40H844.00V259.70H839.00ZM855.00 238.10H860.00V239.60H855.00Z" fill="#089981"/>
<path d="M48.00 268.00H53.00V306.60H48.00ZM53.00 305.80H58.00V307.80H53.00ZM63.00 289.00H68.00V303.00H63.00ZM74.00 303.75H79.00V327.50H74.00ZM79.00 326.25H84.00V376.40H79.00ZM84.00 376.00H89.00V378.75H84.00ZM116.00 281.25H121.00V284.40H116.00ZM136.00 225.00H141.00V233.60H136.00ZM142.00 233.10H147.00V264.80H142.00ZM147.00 264.90H152.00V266.10H147.00ZM152.00 269.00H157.00V295.60H152.00ZM162.00 285.90H167.00V287.10H162.00ZM168.00 292.00H173.00V311.70H168.00ZM178.00 307.00H183.00V313.30H178.00ZM188.00 300.00H193.00V326.00H188.00ZM194.00 325.20H199.00V336.60H194.00ZM199.00 343.10H204.00V376.40H199.00ZM204.00 376.00H209.00V385.50H204.00ZM209.00 385.20H214.00V395.60H209.00ZM225.00 315.20H230.00V320.60H225.00ZM235.00 257.80H240.00V288.60H235.00ZM251.00 315.20H256.00V324.80H251.00ZM256.00 323.75H261.00V331.60H256.00ZM261.00 382.00H266.00V403.60H261.00ZM292.00 283.10H297.00V301.90H292.00ZM298.00 301.10H303.00V349.00H298.00ZM329.00 292.20H334.00V300.60H329.00ZM339.00 315.20H344.00V334.60H339.00ZM345.00 333.20H350.00V418.75H345.00ZM350.00 417.90H355.00V419.10H350.00ZM355.00 479.00H360.00V506.70H355.00ZM360.00 506.00H365.00V546.80H360.00ZM365.00 546.10H370.00V552.80H365.00ZM371.00 586.90H376.00V684.70H371.00ZM386.00 618.00H391.00V641.60H386.00ZM397.00 624.00H402.00V648.60H397.00ZM412.00 550.00H417.00V562.70H412.00ZM417.00 590.00H422.00V597.80H417.00ZM428.00 539.00H433.00V545.80H428.00ZM438.00 526.25H443.00V534.80H438.00ZM449.00 510.00H454.00V521.00H449.00ZM459.00 516.60H464.00V532.20H459.00ZM464.00 505.30H469.00V536.90H464.00ZM485.00 478.00H490.00V484.80H485.00ZM495.00 452.20H500.00V465.80H495.00ZM537.00 314.50H542.00V317.70H537.00ZM542.00 303.30H547.00V320.50H542.00ZM547.00 321.25H552.00V334.50H547.00ZM553.00 334.50H558.00V339.50H553.00ZM563.00 315.50H568.00V317.70H563.00ZM584.00 294.40H589.00V297.80H584.00ZM615.00 258.90H620.00V260.10H615.00ZM631.00 232.20H636.00V236.60H631.00ZM641.00 196.90H646.00V199.50H641.00ZM646.00 198.90H651.00V210.20H646.00ZM657.00 176.10H662.00V178.60H657.00ZM672.00 158.90H677.00V171.90H672.00ZM678.00 171.10H683.00V173.75H678.00ZM683.00 171.10H688.00V183.90H683.00ZM693.00 166.90H698.00V168.10H693.00ZM698.00 152.00H703.00V188.00H698.00ZM704.00 185.90H709.00V225.00H704.00ZM724.00 256.25H729.00V268.60H724.00ZM740.00 251.90H745.00V267.50H740.00ZM745.00 285.00H750.00V307.30H745.00ZM750.00 307.30H755.00V346.90H750.00ZM756.00 346.00H761.00V361.50H756.00ZM776.00 320.20H781.00V329.50H776.00ZM782.00 329.30H787.00V372.70H782.00ZM792.00 342.20H797.00V344.60H792.00ZM797.00 344.30H802.00V364.50H797.00ZM813.00 276.90H818.00V299.50H813.00ZM834.00 237.00H839.00V239.90H834.00ZM844.00 248.20H849.00V255.30H844.00ZM849.00 255.00H854.00V257.80H849.00Z" fill="#f23645"/>
<path d="M13 238.5H1305" stroke="#089981" stroke-width="1.25" stroke-dasharray="1.15 1.85" fill="none"/>
<g transform="translate(857.6 800.4)"><circle r="13.4" fill="#fff"/><path d="M11.82 -4.07A12.5 12.5 0 1 1 4.07 -11.82" fill="none" stroke="#9120b0" stroke-width="2"/><path d="M3.46 -6.67L-6.5 1.14L0.0 0.6L-4.35 6.36L6.14 -1.09L0.45 -0.55Z" fill="#9120b0"/><circle cx="8.55" cy="-8.6" r="3.2" fill="#f23645"/></g>
<rect x="13.0" y="34.0" width="1383.0" height="818.0" fill="none" stroke="#edeff5" stroke-width="2"/>
<text x="1317.8" y="89.60" font-size="14.8" fill="#131722" textLength="65.2" lengthAdjust="spacingAndGlyphs">19,200.00</text>
<text x="1317.8" y="149.48" font-size="14.8" fill="#131722" textLength="65.2" lengthAdjust="spacingAndGlyphs">19,000.00</text>
<text x="1317.8" y="209.36" font-size="14.8" fill="#131722" textLength="65.2" lengthAdjust="spacingAndGlyphs">18,800.00</text>
<text x="1317.8" y="269.24" font-size="14.8" fill="#131722" textLength="65.2" lengthAdjust="spacingAndGlyphs">18,600.00</text>
<text x="1317.8" y="329.12" font-size="14.8" fill="#131722" textLength="65.2" lengthAdjust="spacingAndGlyphs">18,400.00</text>
<text x="1317.8" y="389.00" font-size="14.8" fill="#131722" textLength="65.2" lengthAdjust="spacingAndGlyphs">18,200.00</text>
<text x="1317.8" y="448.88" font-size="14.8" fill="#131722" textLength="65.2" lengthAdjust="spacingAndGlyphs">18,000.00</text>
<text x="1317.8" y="508.76" font-size="14.8" fill="#131722" textLength="65.2" lengthAdjust="spacingAndGlyphs">17,800.00</text>
<text x="1317.8" y="568.64" font-size="14.8" fill="#131722" textLength="65.2" lengthAdjust="spacingAndGlyphs">17,600.00</text>
<text x="1317.8" y="628.52" font-size="14.8" fill="#131722" textLength="65.2" lengthAdjust="spacingAndGlyphs">17,400.00</text>
<text x="1317.8" y="688.40" font-size="14.8" fill="#131722" textLength="65.2" lengthAdjust="spacingAndGlyphs">17,200.00</text>
<text x="1317.8" y="748.28" font-size="14.8" fill="#131722" textLength="65.2" lengthAdjust="spacingAndGlyphs">17,000.00</text>
<text x="1317.8" y="808.16" font-size="14.8" fill="#131722" textLength="65.2" lengthAdjust="spacingAndGlyphs">16,800.00</text>
<path d="M1307 228H1387.9a2 2 0 0 1 2 2V264.9a2 2 0 0 1 -2 2H1307Z" fill="#089981"/>
<text x="1319" y="242.8" font-size="15" font-weight="bold" fill="#fff" textLength="64.8" lengthAdjust="spacingAndGlyphs">18,690.55</text>
<text x="1318" y="261" font-size="15" fill="#fff" fill-opacity="0.78" textLength="57.8" lengthAdjust="spacingAndGlyphs">02:28:23</text>
<rect x="1311.2" y="39.05" width="79.6" height="31.5" rx="4.6" fill="#fff" stroke="#eceef5" stroke-width="1.7"/>
<text x="1322.3" y="59.4" font-size="14.8" fill="#131722" textLength="26" lengthAdjust="spacingAndGlyphs">EUR</text>
<text x="131.70" y="839.7" font-size="14.9" fill="#131722" textLength="14.2" lengthAdjust="spacingAndGlyphs">15</text>
<text x="328.70" y="839.7" font-size="14.9" fill="#131722" font-weight="bold" textLength="25.4" lengthAdjust="spacingAndGlyphs">Aug</text>
<text x="443.80" y="839.7" font-size="14.9" fill="#131722" textLength="14.2" lengthAdjust="spacingAndGlyphs">12</text>
<text x="552.90" y="839.7" font-size="14.9" fill="#131722" textLength="14.2" lengthAdjust="spacingAndGlyphs">21</text>
<text x="673.30" y="839.7" font-size="14.9" fill="#131722" font-weight="bold" textLength="23.8" lengthAdjust="spacingAndGlyphs">Sep</text>
<text x="834.00" y="839.7" font-size="14.9" fill="#131722" textLength="14.2" lengthAdjust="spacingAndGlyphs">16</text>
<text x="1001.00" y="839.7" font-size="14.9" fill="#131722" font-weight="bold" textLength="23.8" lengthAdjust="spacingAndGlyphs">Oct</text>
<text x="1146.10" y="839.7" font-size="14.9" fill="#131722" textLength="14.4" lengthAdjust="spacingAndGlyphs">14</text>
<text x="1254.90" y="839.7" font-size="14.9" fill="#131722" textLength="14.4" lengthAdjust="spacingAndGlyphs">23</text>
<text x="12.8" y="24.6" font-size="14.3" fill="#131722" textLength="430.5" lengthAdjust="spacingAndGlyphs">Mjdabas published on TradingView.com, Sep 17, 2024 08:46 UTC</text>
<text x="23.2" y="58.8" font-size="14.4" fill="#131722" textLength="136.8" lengthAdjust="spacingAndGlyphs">DAX Index, 4h, XETR</text>
<text x="169.8" y="58.8" font-size="14.4" fill="#131722" textLength="9.3" lengthAdjust="spacingAndGlyphs">O</text>
<text x="181" y="58.8" font-size="14.4" fill="#089981" textLength="64.6" lengthAdjust="spacingAndGlyphs">18,686.76</text>
<text x="255" y="58.8" font-size="14.4" fill="#131722" textLength="8.9" lengthAdjust="spacingAndGlyphs">H</text>
<text x="265.5" y="58.8" font-size="14.4" fill="#089981" textLength="64.6" lengthAdjust="spacingAndGlyphs">18,716.04</text>
<text x="340" y="58.8" font-size="14.4" fill="#131722" textLength="6.6" lengthAdjust="spacingAndGlyphs">L</text>
<text x="348.3" y="58.8" font-size="14.4" fill="#089981" textLength="64.4" lengthAdjust="spacingAndGlyphs">18,671.64</text>
<text x="423" y="58.8" font-size="14.4" fill="#131722" textLength="8" lengthAdjust="spacingAndGlyphs">C</text>
<text x="432.6" y="58.8" font-size="14.4" fill="#089981" textLength="64" lengthAdjust="spacingAndGlyphs">18,690.55</text>
<text x="506" y="58.8" font-size="14.4" fill="#089981" textLength="106" lengthAdjust="spacingAndGlyphs">+61.81 (+0.33%)</text>
<text x="621.5" y="58.8" font-size="14.4" fill="#131722" textLength="20" lengthAdjust="spacingAndGlyphs">Vol</text>
<text x="642" y="58.8" font-size="14.4" fill="#089981" textLength="49.5" lengthAdjust="spacingAndGlyphs">5.832 M</text>
<text x="702" y="58.8" font-size="14.4" fill="#089981" textLength="105.5" lengthAdjust="spacingAndGlyphs">+57.26 (+0.31%)</text>
<g transform="translate(13 865.1) scale(0.683 0.6667)" fill="#131722"><path d="M14 22H7V11H0V4h14v18z"/><circle cx="20" cy="8" r="4"/><path d="M28 22h-8l7.5-18h8L28 22z"/></g>
<text x="42.6" y="879.6" font-size="14.9" fill="#131722" textLength="87" lengthAdjust="spacingAndGlyphs">TradingView</text>
</svg>
</body></html>
